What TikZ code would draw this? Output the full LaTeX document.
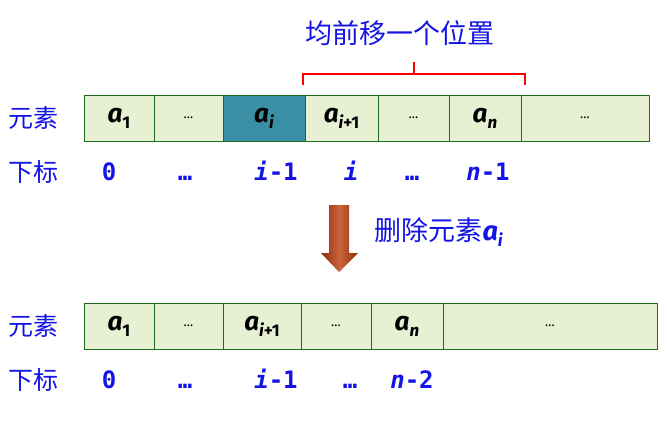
\documentclass[tikz,border=0pt]{standalone}
\usepackage{fontspec}
\setmainfont{Fira Sans}
\newfontfamily\cjk{Noto Sans CJK SC}
\newfontfamily\idxfont{DejaVu Sans Mono}
\definecolor{cellgreen}{HTML}{E8F0D4}
\definecolor{cellline}{HTML}{1E6B1E}
\definecolor{cellteal}{HTML}{3A8FA5}
\definecolor{labelblue}{HTML}{1414E6}
\definecolor{arrowdark}{HTML}{8E2C08}
\definecolor{arrowmid}{HTML}{C9653C}
% element a with a subscript
\newcommand\ael[1]{{\bfseries\itshape a}\raisebox{-.45ex}{\fontsize{17}{17}\selectfont\bfseries #1}}
\newcommand\celldots{{\fontsize{13}{13}\selectfont\dots}}
\tikzset{
  cell/.style={draw=cellline,line width=1pt,minimum height=46pt,inner sep=0pt,
    font=\fontsize{25}{25}\selectfont},
  rowlabel/.style={text=labelblue,font=\cjk\fontsize{25}{25}\selectfont},
  index/.style={text=labelblue,text height=17pt,text depth=0pt,
    font=\idxfont\bfseries\fontsize{24}{24}\selectfont}
}
\begin{document}
\begin{tikzpicture}[x=1pt,y=-1pt]
\useasboundingbox (0,0) rectangle (668,423);
% before deletion
\foreach \l/\r/\fil/\xtext/\name in {84/154/cellgreen/\ael{1}/ta,154/223/cellgreen/\celldots/tb,
  223/305/cellteal/{\ael{\itshape i}}/tc,305/378/cellgreen/{\ael{{\itshape i}+1}}/td,
  378/449/cellgreen/\celldots/te,449/521/cellgreen/{\ael{\itshape n}}/tf,521/649/cellgreen/\celldots/tg}
{
    \node[cell,fill=\fil,minimum width={(\r-\l)*1pt}] (\name) at ({(\l+\r)/2},118){};
    \node[font=\fontsize{26}{26}\selectfont] (\name t) at (\name){\xtext};
}
\node[rowlabel] (elemtop) at (34,118){元素};
\node[rowlabel] (idxtop) at (34,172){下标};
\foreach \x/\xtext/\name in {109/0/ia,185/{\dots}/ib,276/{{\itshape i}-1}/ic,351/{\itshape i}/id,
  412/{\dots}/ie,488/{{\itshape n}-1}/if}
{
    \node[index] (\name) at (\x,172){\xtext};
}
% bracket over the moved elements
\coordinate (bl) at (303,85);
\coordinate (br) at (525,85);
\coordinate (bm) at (414,74);
\coordinate (btop) at (414,62);
\draw[red,line width=2pt] (bl) |- (br |- bm) -- (br);
\draw[red,line width=2pt] (bm) -- (btop);
\node[text=labelblue,font=\cjk\fontsize{27}{27}\selectfont] (shift) at (400,33){均前移一个位置};
% arrow
\shade[left color=arrowdark,right color=arrowdark,middle color=arrowmid]
  (329,205) -- (349,205) -- (349,253) -- (358,253) -- (339,272) -- (321,253) -- (329,253) -- cycle;
\node[text=labelblue,font=\fontsize{27}{27}\selectfont,anchor=west] (del) at (371,232)
  {{\cjk 删除元素}\ael{\itshape i}};
% after deletion
\foreach \l/\r/\xtext/\name in {84/154/\ael{1}/ba,154/223/\celldots/bb,223/301/{\ael{{\itshape i}+1}}/bc,
  301/371/\celldots/bd,371/443/{\ael{\itshape n}}/be,443/657/\celldots/bf}
{
    \node[cell,fill=cellgreen,minimum width={(\r-\l)*1pt}] (\name) at ({(\l+\r)/2},326){};
    \node[font=\fontsize{26}{26}\selectfont] (\name t) at (\name){\xtext};
}
\node[rowlabel] (elembot) at (34,326){元素};
\node[rowlabel] (idxbot) at (34,380){下标};
\foreach \x/\xtext/\name in {109/0/ja,185/{\dots}/jb,276/{{\itshape i}-1}/jc,350/{\dots}/jd,
  412/{{\itshape n}-2}/je}
{
    \node[index] (\name) at (\x,380){\xtext};
}
\end{tikzpicture}
\end{document}
